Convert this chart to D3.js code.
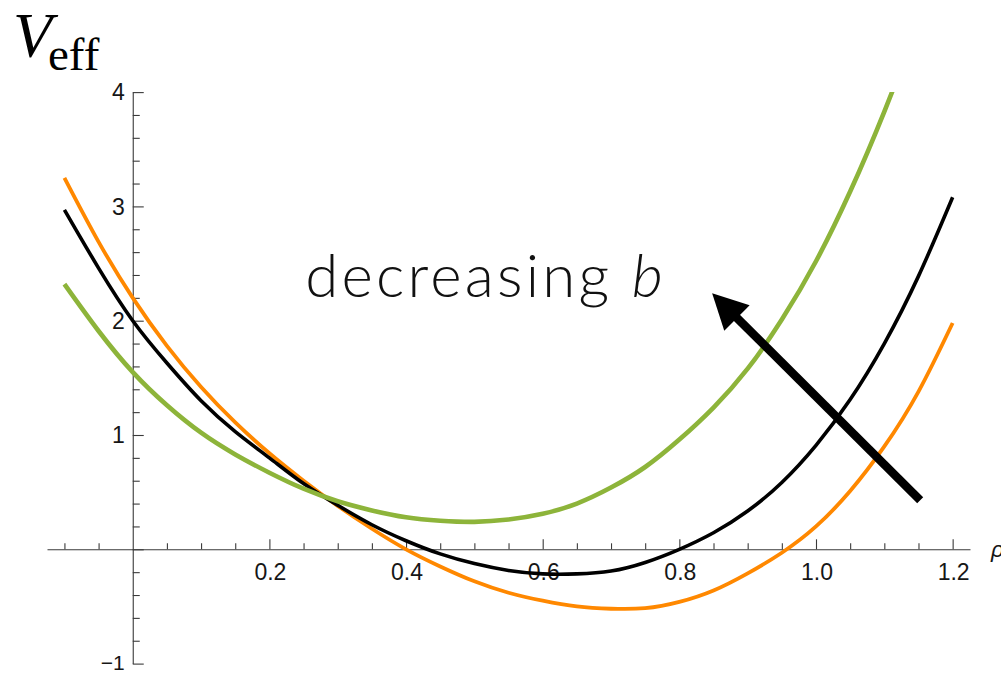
<!DOCTYPE html>
<html>
<head>
<meta charset="utf-8">
<script src="https://cdn.jsdelivr.net/npm/d3@7"></script>
<style>
  html, body { margin: 0; padding: 0; background: #fff; }
  svg { display: block; }
</style>
</head>
<body>
<svg id="chart" width="1001" height="673"></svg>
<script>
// Radial coordinate samples
const rho = [-0.1, -0.05, 0, 0.05, 0.1, 0.15, 0.2, 0.25, 0.3, 0.35, 0.4, 0.45, 0.5,
             0.55, 0.6, 0.65, 0.7, 0.75, 0.8, 0.85, 0.9, 0.95, 1.0, 1.05, 1.1, 1.15, 1.2];

// Effective potential for three values of b
const vOrange = [3.25, 2.69, 2.20, 1.78, 1.42, 1.11, 0.84, 0.60, 0.38, 0.18, 0.00, -0.15, -0.28,
                 -0.38, -0.45, -0.50, -0.52, -0.515, -0.46, -0.36, -0.21, -0.03, 0.20, 0.51, 0.90, 1.38, 1.98];
const vBlack  = [2.97, 2.46, 2.00, 1.63, 1.30, 1.03, 0.80, 0.575, 0.385, 0.215, 0.075, -0.04, -0.125,
                 -0.185, -0.215, -0.215, -0.19, -0.115, 0.00, 0.145, 0.335, 0.585, 0.91, 1.31, 1.80, 2.39, 3.08];
const vGreen  = [2.32, 1.91, 1.55, 1.26, 1.02, 0.83, 0.67, 0.53, 0.42, 0.34, 0.28, 0.25, 0.24,
                 0.26, 0.31, 0.40, 0.54, 0.72, 0.96, 1.24, 1.58, 2.01, 2.52, 3.13, 3.83, 4.62, 5.5];

// Axis ticks
const xLabelTicks = [0.2, 0.4, 0.6, 0.8, 1.0, 1.2];
const xLabelText  = ["0.2", "0.4", "0.6", "0.8", "1.0", "1.2"];
const yLabelTicks = [-1, 1, 2, 3, 4];
const yLabelText  = ["\u22121", "1", "2", "3", "4"];

const svg = d3.select("#chart");

const x = d3.scaleLinear().domain([-0.1255, 1.2254]).range([47, 970]);
const y = d3.scaleLinear().domain([-1, 4]).range([663.6, 92.1]);

const axisColor = "#3a3a3a";
const labelFont = "'Liberation Sans', Arial, sans-serif";

// ---- x axis: ticks point up, labels below ----
const xMinor = d3.range(-0.1, 1.2001, 0.05).map(v => +v.toFixed(2)).filter(v => Math.abs(v) > 1e-9 && !xLabelTicks.includes(v));

const gx = svg.append("g").attr("transform", `translate(0,${y(0)})`);
gx.append("g")
  .call(d3.axisTop(x).tickValues(xMinor).tickSize(6).tickSizeOuter(0).tickFormat(""))
  .call(g => g.selectAll("path,line").attr("stroke", axisColor).attr("stroke-width", 1.1));
gx.append("g")
  .call(d3.axisTop(x).tickValues(xLabelTicks).tickSize(10).tickSizeOuter(0).tickFormat(""))
  .call(g => g.select(".domain").remove())
  .call(g => g.selectAll("line").attr("stroke", axisColor).attr("stroke-width", 1.1));
gx.selectAll("text.xl")
  .data(xLabelTicks)
  .join("text")
  .attr("class", "xl")
  .attr("x", d => x(d) + 1)
  .attr("y", 31)
  .attr("text-anchor", "middle")
  .attr("font-family", labelFont)
  .attr("font-size", 23)
  .attr("fill", "#161616")
  .text((d, i) => xLabelText[i]);

// axis name, running off the right edge
svg.append("text")
  .attr("x", 991)
  .attr("y", y(0) + 8)
  .attr("font-family", labelFont)
  .attr("font-style", "italic")
  .attr("font-size", 23)
  .attr("fill", "#161616")
  .text("\u03C1");

// ---- y axis: ticks point right, labels on the left ----
const yMinor = d3.range(-1, 4.0001, 0.2).map(v => +v.toFixed(1)).filter(v => Math.abs(v - Math.round(v)) > 1e-9);
const yMajor = [-1, 0, 1, 2, 3, 4];

const gy = svg.append("g").attr("transform", `translate(${x(0)},0)`);
gy.append("g")
  .call(d3.axisRight(y).tickValues(yMinor).tickSize(7).tickSizeOuter(0).tickFormat(""))
  .call(g => g.selectAll("path,line").attr("stroke", axisColor).attr("stroke-width", 1.1));
gy.append("g")
  .call(d3.axisRight(y).tickValues(yMajor).tickSize(11).tickSizeOuter(0).tickFormat(""))
  .call(g => g.select(".domain").remove())
  .call(g => g.selectAll("line").attr("stroke", axisColor).attr("stroke-width", 1.1));
gy.selectAll("text.yl")
  .data(yLabelTicks)
  .join("text")
  .attr("class", "yl")
  .attr("x", -8)
  .attr("y", d => y(d))
  .attr("dy", d => d === -1 ? "0.3em" : "0.36em")
  .attr("text-anchor", "end")
  .attr("font-family", labelFont)
  .attr("font-size", d => d === -1 ? 21 : 23)
  .attr("fill", "#161616")
  .text((d, i) => yLabelText[i]);

// ---- curves ----
svg.append("clipPath").attr("id", "plotClip")
  .append("rect")
  .attr("x", 0).attr("y", y(4))
  .attr("width", 1001).attr("height", y(-1) - y(4));

const line = d3.line()
  .x(d => x(d[0]))
  .y(d => y(d[1]))
  .curve(d3.curveNatural);

const series = [
  { values: vOrange, color: "#ff8800", width: 3.8 },
  { values: vBlack,  color: "#000000", width: 3.6 },
  { values: vGreen,  color: "#8db43a", width: 4.6 }
];

svg.append("g").attr("clip-path", "url(#plotClip)")
  .selectAll("path")
  .data(series)
  .join("path")
  .attr("d", s => line(rho.map((r, i) => [r, s.values[i]])))
  .attr("fill", "none")
  .attr("stroke", s => s.color)
  .attr("stroke-width", s => s.width)
  .attr("stroke-linecap", "butt")
  .attr("stroke-linejoin", "round");

// ---- annotation: arrow and label ----
const arrowTail = [1.1525, 0.43];
const arrowTip  = [0.848, 2.24];
const tx = x(arrowTip[0]), ty = y(arrowTip[1]);
const sx = x(arrowTail[0]), sy = y(arrowTail[1]);
const ang = Math.atan2(ty - sy, tx - sx);
const headLen = 35, headHalf = 18;
const bx = tx - headLen * Math.cos(ang), by = ty - headLen * Math.sin(ang);

svg.append("line")
  .attr("x1", sx).attr("y1", sy)
  .attr("x2", bx + 4 * Math.cos(ang)).attr("y2", by + 4 * Math.sin(ang))
  .attr("stroke", "#000")
  .attr("stroke-width", 8.5);

svg.append("path")
  .attr("d", d3.line()([
    [tx, ty],
    [bx + headHalf * Math.sin(ang), by - headHalf * Math.cos(ang)],
    [bx - headHalf * Math.sin(ang), by + headHalf * Math.cos(ang)]
  ]) + "Z")
  .attr("fill", "#000");

const note = svg.append("text")
  .attr("x", x(0.2525))
  .attr("y", y(2.207))
  .attr("font-family", "Lato, 'Noto Sans', sans-serif")
  .attr("font-weight", 300)
  .attr("font-size", 60)
  .attr("letter-spacing", 3.2)
  .attr("fill", "#111");
note.append("tspan").text("decreasing ");
note.append("tspan").attr("font-style", "italic").text("b");

// ---- vertical axis title ----
const title = svg.append("text")
  .attr("x", 13)
  .attr("y", 57)
  .attr("font-family", "'Liberation Serif', 'Times New Roman', serif")
  .attr("fill", "#000");
title.append("tspan").attr("font-style", "italic").attr("font-size", 64).text("V");
title.append("tspan").attr("x", 48).attr("y", 70).attr("font-size", 47).text("eff");
</script>
</body>
</html>
